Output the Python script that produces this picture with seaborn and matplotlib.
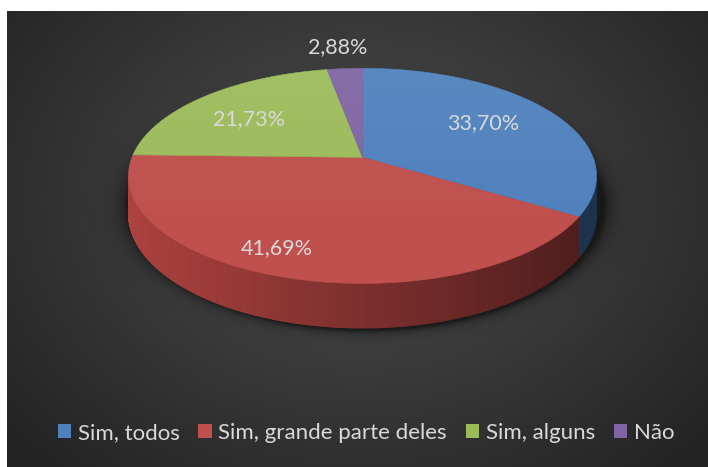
import numpy as np
import matplotlib.pyplot as plt
import seaborn as sns
from matplotlib.patches import Polygon, Patch
from matplotlib.collections import PolyCollection

# Data
categories = ['Sim, todos', 'Sim, grande parte deles', 'Sim, alguns', 'Não']
values = [33.70, 41.69, 21.73, 2.88]
value_labels = ['33,70%', '41,69%', '21,73%', '2,88%']
palette = sns.color_palette(['#4F81BD', '#C0504D', '#9BBB59', '#8064A2'])

sns.set_style('dark')
plt.rcParams['font.family'] = ['Lato', 'DejaVu Sans']

W, H = 708, 467
fig = plt.figure(figsize=(7.08, 4.67), dpi=100, facecolor='white')
ax = fig.add_axes([0, 0, 1, 1])

# dark radial gradient background (chart area)
x0, y0 = 7, 11
xx, yy = np.meshgrid(np.arange(x0, W) + 0.5, np.arange(y0, H) + 0.5)
rr = np.hypot((xx - 360) / 420, (yy - 200) / 330)
g = np.clip(0.305 - 0.15 * rr, 0.14, 0.305)
ax.imshow(np.dstack([g, g, g]), extent=(x0, W, H, y0), interpolation='bilinear',
          aspect='auto', zorder=0)

# perspective projection of a flat cylinder (pixels)
cx, F, D, Hc, yh, depth = 362.5, 1337.0, 5.8, 2.626, -448.0, 0.16


def project(r, phi, h=0.0):
    X, Z = r * np.sin(phi), r * np.cos(phi)
    return cx + F * X / (D + Z), yh + F * (Hc - h) / (D + Z)


fracs = np.array(values) / np.sum(values)
edges = 2 * np.pi * np.concatenate([[0], np.cumsum(fracs)])
vis_lo = np.arccos(-1 / D)
vis_hi = 2 * np.pi - vis_lo

# soft shadow under the pie
dist = np.hypot((xx - 366) / 238, (yy - 206) / 124)
alpha = 0.55 * np.exp(-np.clip(dist - 1, 0, None) / 0.035)
shadow = np.zeros(dist.shape + (4,))
shadow[..., 3] = alpha
ax.imshow(shadow, extent=(x0, W, H, y0), interpolation='bilinear', aspect='auto', zorder=1)

# side wall (only the front part is visible)
for i in range(len(values)):
    a0, a1 = max(edges[i], vis_lo), min(edges[i + 1], vis_hi)
    if a1 <= a0:
        continue
    ph = np.linspace(a0, a1, max(int((a1 - a0) / 0.01), 2))
    tx, ty = project(1, ph)
    bx, by = project(1, ph, -depth)
    polys, cols = [], []
    for k in range(len(ph) - 1):
        polys.append([(tx[k], ty[k]), (tx[k + 1], ty[k + 1]),
                      (bx[k + 1], by[k + 1]), (bx[k], by[k])])
        s = np.clip(((tx[k] + tx[k + 1]) / 2 - 128) / 470, 0, 1)
        shade = 0.93 - 0.52 * s
        cols.append(np.clip(np.array(palette[i]) ** 1.1 * shade, 0, 1))
    ax.add_collection(PolyCollection(polys, facecolors=cols, edgecolors=cols,
                                     linewidths=0.6, zorder=2))

# top faces
ox, oy = project(0, 0)
for i in range(len(values)):
    ph = np.linspace(edges[i], edges[i + 1], 200)
    px, py = project(1, ph)
    ax.add_patch(Polygon(np.column_stack([np.r_[ox, px], np.r_[oy, py]]),
                         facecolor=palette[i], edgecolor=palette[i], lw=0.4, zorder=3))

# faint light from above on the top face
ph = np.linspace(0, 2 * np.pi, 400)
ex, ey = project(1, ph)
top_clip = Polygon(np.column_stack([ex, ey]), closed=True, transform=ax.transData)
hl = np.zeros(dist.shape + (4,))
hl[..., :3] = 1.0
hl[..., 3] = np.clip((230 - yy) / 170, 0, 1) * 0.07
im = ax.imshow(hl, extent=(x0, W, H, y0), interpolation='bilinear', aspect='auto', zorder=4)
im.set_clip_path(top_clip)

# data labels
label_r = [0.67, 0.81, 0.67, 1.33]
label_turn = np.radians([-4.3, 7.2, -2.5, -0.6])
for i in range(len(values)):
    mid = (edges[i] + edges[i + 1]) / 2 + label_turn[i]
    lx, ly = project(label_r[i], mid)
    ax.text(lx, ly, value_labels[i], ha='center', va='center_baseline',
            fontsize=15.5, color='#D9D9D9', zorder=5)

ax.set_xlim(0, W)
ax.set_ylim(H, 0)
ax.axis('off')

handles = [Patch(facecolor=palette[i], edgecolor='none', label=categories[i])
           for i in range(len(categories))]
fig.legend(handles=handles, loc='center', bbox_to_anchor=(366 / W, 1 - 433 / H),
           ncol=4, frameon=False, fontsize=16, labelcolor='#D9D9D9',
           handlelength=0.6, handleheight=0.6, handletextpad=0.3,
           columnspacing=0.85, borderaxespad=0)

fig.savefig('out.png', dpi=100, facecolor='white')
